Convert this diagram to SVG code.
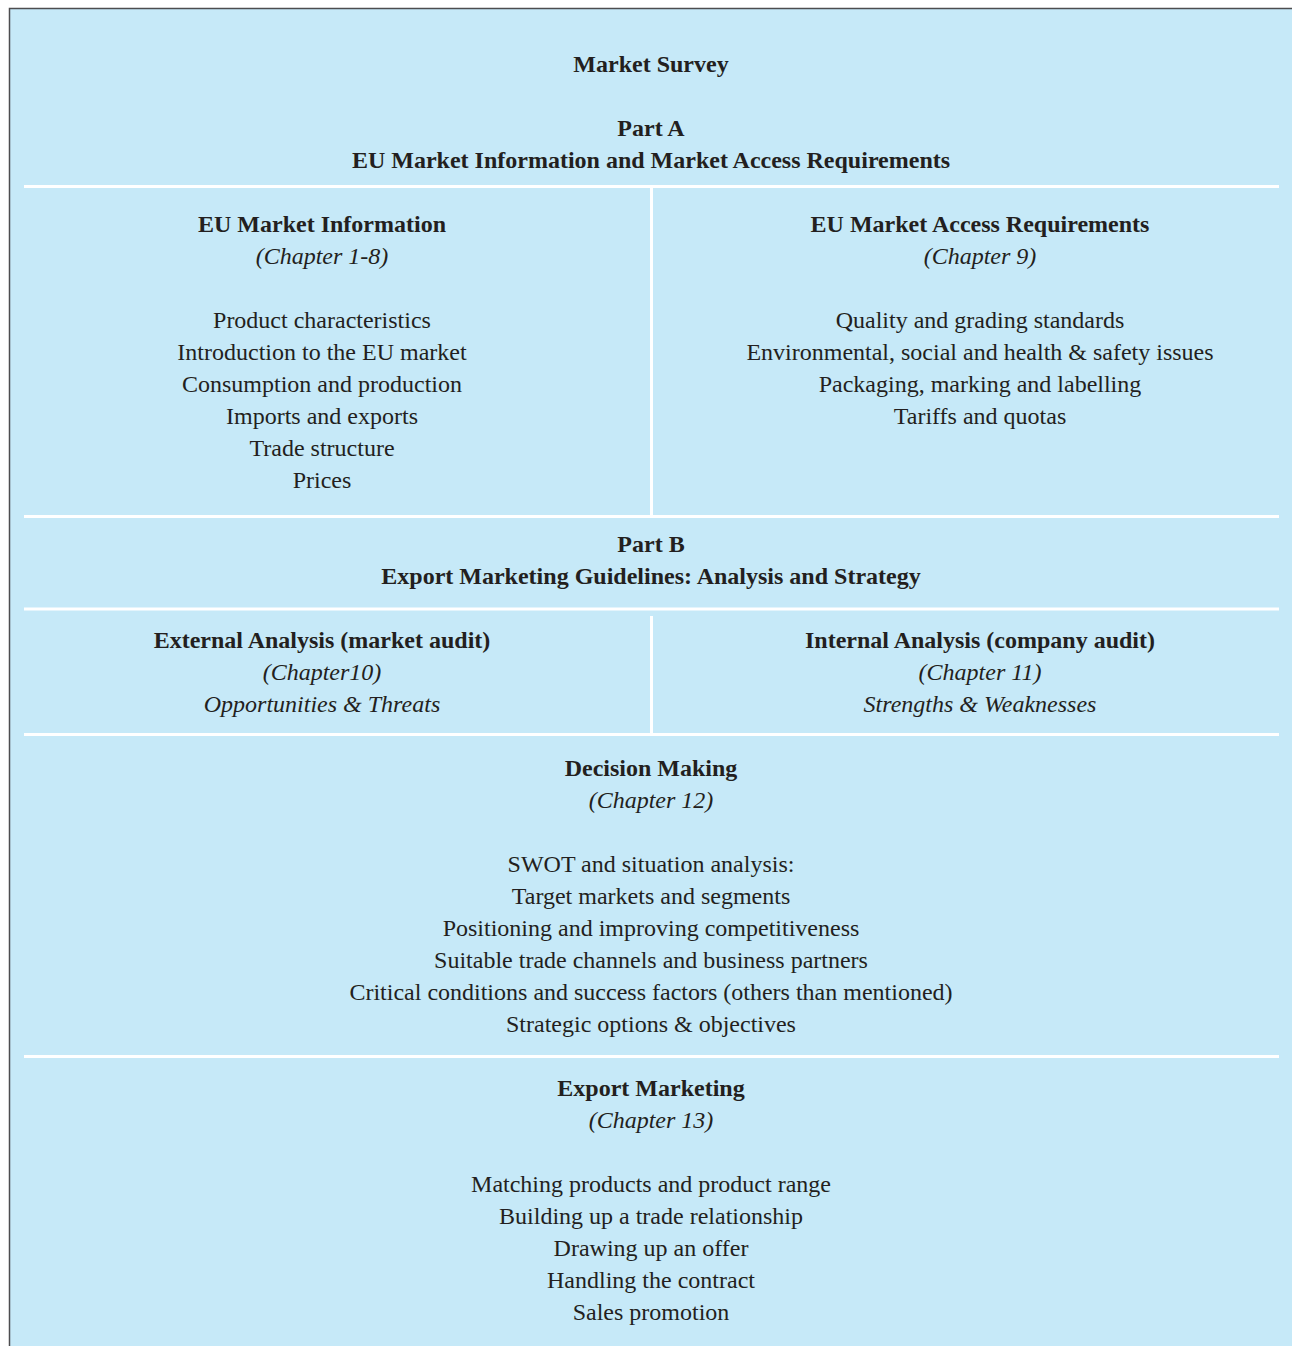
<svg xmlns="http://www.w3.org/2000/svg" width="1292" height="1346" viewBox="0 0 1292 1346">
<style>
text{font-family:"Liberation Serif","Times New Roman",serif;font-size:24px;fill:#231f20;text-anchor:middle}
.b{font-weight:bold}
.i{font-style:italic}
.sep{stroke:#ffffff;stroke-width:3;fill:none}
</style>
<rect x="0" y="0" width="1292" height="1346" fill="#ffffff"/>
<rect x="9" y="8" width="1290" height="1345" fill="#c6e9f8"/>
<path d="M9.5,1346 V8.5 H1292" fill="none" stroke="#4d4d4f" stroke-width="1.5"/>
<g id="connectors">
<line class="sep" x1="24" y1="186.5" x2="1279" y2="186.5"/>
<line class="sep" x1="651.5" y1="187" x2="651.5" y2="516"/>
<line class="sep" x1="24" y1="516.5" x2="1279" y2="516.5"/>
<line class="sep" x1="24" y1="609" x2="1279" y2="609"/>
<line class="sep" x1="651.5" y1="616" x2="651.5" y2="734"/>
<line class="sep" x1="24" y1="734.5" x2="1279" y2="734.5"/>
<line class="sep" x1="24" y1="1056.5" x2="1279" y2="1056.5"/>
</g>
<g id="title">
<text class="b" x="651" y="72">Market Survey</text>
</g>
<g id="partA">
<text class="b" x="651" y="136">Part A</text>
<text class="b" x="651" y="168">EU Market Information and Market Access Requirements</text>
</g>
<g id="euMarketInfo">
<text class="b" x="322" y="232">EU Market Information</text>
<text class="i" x="322" y="264">(Chapter 1-8)</text>
<text x="322" y="328">Product characteristics</text>
<text x="322" y="360">Introduction to the EU market</text>
<text x="322" y="392">Consumption and production</text>
<text x="322" y="424">Imports and exports</text>
<text x="322" y="456">Trade structure</text>
<text x="322" y="488">Prices</text>
</g>
<g id="euMarketAccess">
<text class="b" x="980" y="232">EU Market Access Requirements</text>
<text class="i" x="980" y="264">(Chapter 9)</text>
<text x="980" y="328">Quality and grading standards</text>
<text x="980" y="360">Environmental, social and health &amp; safety issues</text>
<text x="980" y="392">Packaging, marking and labelling</text>
<text x="980" y="424">Tariffs and quotas</text>
</g>
<g id="partB">
<text class="b" x="651" y="552">Part B</text>
<text class="b" x="651" y="584">Export Marketing Guidelines: Analysis and Strategy</text>
</g>
<g id="externalAnalysis">
<text class="b" x="322" y="648">External Analysis (market audit)</text>
<text class="i" x="322" y="680">(Chapter10)</text>
<text class="i" x="322" y="712">Opportunities &amp; Threats</text>
</g>
<g id="internalAnalysis">
<text class="b" x="980" y="648">Internal Analysis (company audit)</text>
<text class="i" x="980" y="680">(Chapter 11)</text>
<text class="i" x="980" y="712">Strengths &amp; Weaknesses</text>
</g>
<g id="decisionMaking">
<text class="b" x="651" y="776">Decision Making</text>
<text class="i" x="651" y="808">(Chapter 12)</text>
<text x="651" y="872">SWOT and situation analysis:</text>
<text x="651" y="904">Target markets and segments</text>
<text x="651" y="936">Positioning and improving competitiveness</text>
<text x="651" y="968">Suitable trade channels and business partners</text>
<text x="651" y="1000">Critical conditions and success factors (others than mentioned)</text>
<text x="651" y="1032">Strategic options &amp; objectives</text>
</g>
<g id="exportMarketing">
<text class="b" x="651" y="1096">Export Marketing</text>
<text class="i" x="651" y="1128">(Chapter 13)</text>
<text x="651" y="1192">Matching products and product range</text>
<text x="651" y="1224">Building up a trade relationship</text>
<text x="651" y="1256">Drawing up an offer</text>
<text x="651" y="1288">Handling the contract</text>
<text x="651" y="1320">Sales promotion</text>
</g>
</svg>
